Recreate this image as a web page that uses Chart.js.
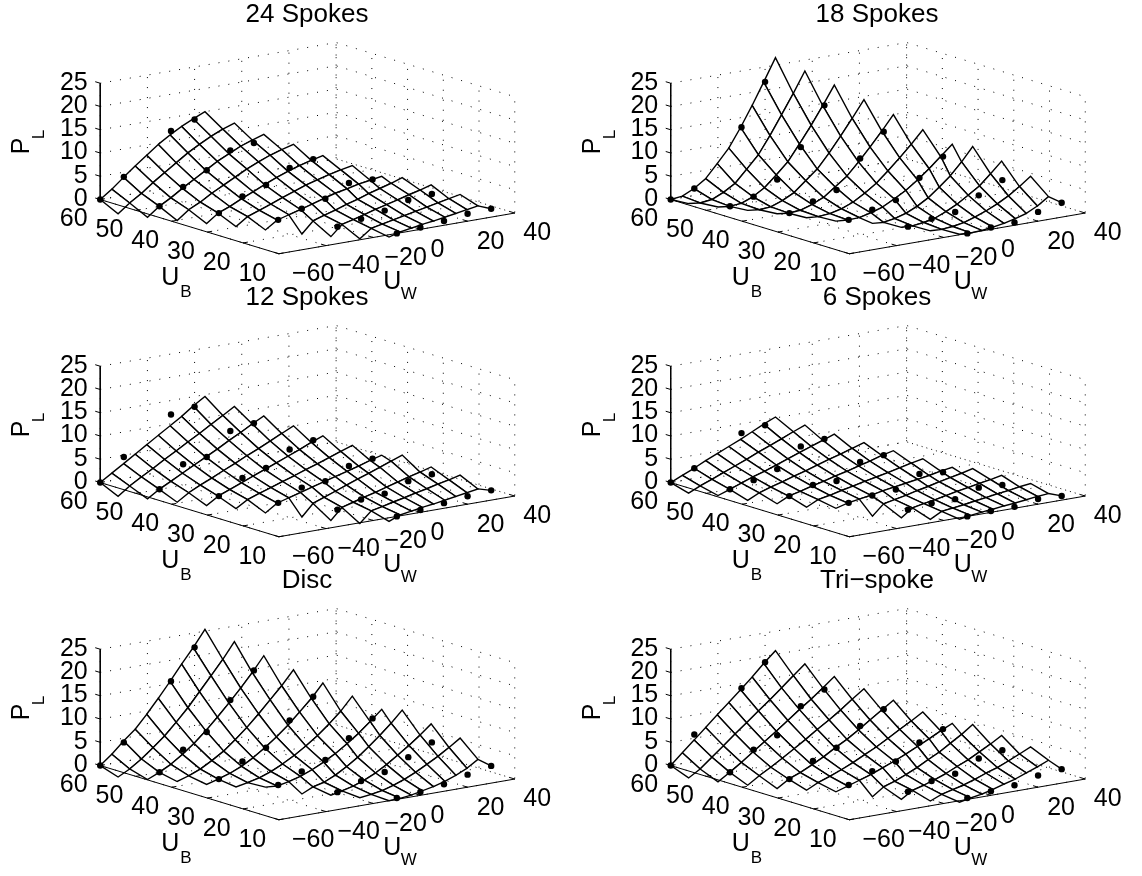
<!DOCTYPE html>
<html><head><meta charset="utf-8">
<style>html,body{margin:0;padding:0;background:#fff;overflow:hidden;width:1142px;height:876px}canvas{position:absolute}</style>
<script src="https://cdn.jsdelivr.net/npm/chart.js@4"></script>
</head><body>
<script>
const titles = ['24 Spokes','18 Spokes','12 Spokes','6 Spokes','Disc','Tri\u2212spoke'];
const zTicks = [0,5,10,15,20,25];
const bTicks = [60,50,40,30,20,10];
const wTicks = [-60,-40,-20,0,20,40];
const wTickText = ['\u221260','\u221240','\u221220','0','20','40'];

// mesh rows: U_B of each row and the first mesh column used by that row
const meshB = [60,55,50,45,40,35,30,25,20,15,10];
const meshCol0 = [1,1,2,3,4,5,6,8,9,10,11];
const wHigh = [-60,-55.1,-50.1,-45.2,-40.3,-35.4,-30.4,-25.5,-20.6,-15.6,-10.7,-5.8,-0.8,4.1,9,13.9];
const wLow = [-27.5,-22.8,-18.1,-13.3,-8.6,-3.9,0.8,5.5,10.3,15,19.7,24.4];

// measured points: U_B rows, each five U_W values at U_W = -U_B + 0,10,20,30,40
const dotB = [60,50,40,30,20,10];
const dotOffset = [0,10,20,30,40];

const mesh24 = [
 [0,1.8,3.9,5.9,7.8,9.7,11.3,12.7,13.9,15.0],
 [-1.9,0,1.6,3.5,5.2,6.9,8.6,10.0,11.3,12.4,13.3],
 [-1.9,0,1.4,3.0,4.5,6.0,7.5,8.7,9.9,10.8,11.6],
 [-1.9,0,1.2,2.7,4.0,5.3,6.6,7.7,8.7,9.5,10.2],
 [-1.8,0,1.0,2.2,3.3,4.4,5.5,6.4,7.2,7.9,8.5],
 [-1.7,0,.9,1.8,2.8,3.7,4.6,5.3,6.0,6.6,7.1],
 [-1.7,0,.7,1.4,2.1,2.9,3.6,4.1,4.7,5.1,5.5],
 [-2.1,.3,1.1,1.8,2.6,3.3,4.1,4.8,5.5,6.3],
 [-1.9,.3,.9,1.6,2.3,2.9,3.5,4.2,4.8,5.5],
 [-1.6,.2,.7,1.2,1.7,2.2,2.7,3.2,3.7,4.2],
 [-.5,.2,.6,1.0,1.3,1.7,2.1,2.5,2.9]];
const dots24 = [[0,4.0,null,12.1,13.7],[0,3.3,6.0,9.4,10.1],[0,2.7,4.3,7.1,8.1],[0,1.5,2.8,5.3,5.2],[0,.8,1.7,3.1,3.5],[0,.4,.9,1.6,1.8]];

const mesh18 = [
 [0,.3,1.5,3.2,6.0,8.9,12.9,17.2,21.8,26.6],
 [.3,0,.3,1.4,2.9,5.5,8.2,11.9,15.9,20.1,24.5],
 [.3,0,.2,1.2,2.7,5.0,7.4,10.8,14.4,18.2,22.2],
 [.3,0,.2,1.1,2.4,4.5,6.6,9.6,12.8,16.2,19.8],
 [.3,0,.2,1.0,2.1,3.9,5.8,8.4,11.2,14.2,17.3],
 [.2,0,.2,.8,1.8,3.3,5.0,7.2,9.6,12.1,14.8],
 [.2,0,.1,.7,1.5,2.8,4.2,6.0,8.0,10.2,12.4],
 [.2,0,.4,1.1,2.2,3.6,5.5,7.5,10.1,13.0],
 [.1,0,.3,.8,1.8,3.0,4.5,6.1,8.3,10.6],
 [.1,0,.2,.6,1.4,2.3,3.4,4.7,6.3,8.1],
 [.1,0,.1,.4,.8,1.4,2.1,3.3,4.9]];
const dots18 = [[0,1.5,null,12.9,21.8],[0,1.2,4.0,10.1,18.2],[0,1.6,3.2,9.1,14.0],[0,1.3,2.5,6.4,10.1],[0,.8,1.4,4.1,6.5],[0,.4,.6,2.0,3.1]];

const mesh12 = [
 [0,1.6,3.2,4.8,6.4,8.0,9.6,11.2,13.0,14.6],
 [-1.8,0,1.5,2.9,4.4,5.8,7.3,8.7,10.2,11.7,13.2],
 [-1.6,0,1.3,2.6,3.9,5.2,6.5,7.9,9.2,10.6,11.9],
 [-1.6,0,1.2,2.3,3.5,4.6,5.8,6.9,8.1,9.3,10.5],
 [-1.6,0,1.0,2.0,3.0,4.0,5.0,6.0,7.0,8.1,9.1],
 [-1.5,0,.9,1.7,2.6,3.4,4.3,5.1,6.0,6.9,7.8],
 [-1.7,0,.7,1.4,2.1,2.8,3.5,4.2,4.9,5.7,6.4],
 [-2.1,.4,1.3,2.2,3.1,4.0,4.8,5.7,6.6,7.5],
 [-2.1,.3,1.0,1.7,2.3,3.0,3.7,4.4,5.0,5.7],
 [-2.0,.3,.8,1.4,1.9,2.5,3.0,3.6,4.1,4.7],
 [-.8,.2,.6,1.0,1.3,1.7,2.1,2.5,2.9]];
const dots12 = [[0,4.6,null,12.0,12.8],[0,4.5,5.2,9.9,10.7],[0,3.0,4.3,7.4,8.5],[0,2.4,2.9,5.3,6.0],[0,1.3,1.7,3.5,4.1],[0,.5,1.1,1.7,2.1]];

const mesh6 = [
 [0,1.1,2.2,3.4,4.5,5.6,6.7,7.9,9.1,10.2],
 [-1.1,0,1.0,2.0,3.0,4.0,5.1,6.1,7.1,8.2,9.2],
 [-.9,0,.9,1.8,2.6,3.5,4.4,5.3,6.2,7.1,8.0],
 [-1.2,0,.8,1.5,2.3,3.0,3.8,4.6,5.3,6.1,6.9],
 [-1.2,0,.6,1.3,1.9,2.6,3.2,3.9,4.5,5.3,5.9],
 [-1.2,0,.5,1.1,1.6,2.2,2.7,3.2,3.8,4.4,4.9],
 [-.7,0,.4,.8,1.3,1.7,2.1,2.5,2.9,3.4,3.8],
 [-1.9,.3,.8,1.3,1.9,2.4,3.0,3.5,4.0,4.6],
 [-1.5,.2,.7,1.1,1.6,2.1,2.5,3.0,3.4,3.9],
 [-1.1,.2,.5,.8,1.2,1.5,1.9,2.2,2.6,2.9],
 [-.3,.1,.4,.6,.9,1.1,1.4,1.7,1.9]];
const dots6 = [[0,2.2,null,8.0,8.8],[0,1.1,2.6,6.6,7.3],[0,1.5,1.5,4.7,5.3],[0,.7,1.1,3.6,3.1],[0,.5,.5,2.1,1.8],[0,.3,.3,1.1,.9]];

const meshDisc = [
 [0,2.0,4.4,6.5,9.3,12.3,15.5,18.8,21.9,25.4],
 [-1.3,0,1.7,3.7,5.8,8.3,11.0,14.0,17.0,20.1,23.5],
 [-1.1,0,1.3,3.0,4.9,7.2,9.7,12.3,15.1,18.0,21.2],
 [-.8,0,1.0,2.4,4.0,6.0,8.2,10.7,13.3,15.9,18.9],
 [-.7,0,.8,1.9,3.3,5.0,6.9,9.0,11.4,13.9,16.8],
 [-.5,0,.6,1.5,2.7,4.1,5.7,7.5,9.6,11.9,14.7],
 [.2,0,.5,1.2,2.2,3.4,4.8,6.5,8.3,10.4,12.6],
 [-.8,.3,.9,2.0,3.4,5.0,6.9,8.9,11.1,13.5],
 [-.3,.2,.8,1.7,2.8,4.2,5.8,7.5,9.3,11.3],
 [-.1,.2,.6,1.3,2.2,3.3,4.6,5.9,7.4,9.0],
 [0,.1,.4,.9,1.4,2.1,3.0,4.1,5.6]];
const dotsDisc = [[0,4.1,null,15.5,21.9],[0,4.0,6.9,12.9,18.4],[0,2.9,5.0,10.0,14.2],[.2,2.2,3.8,7.6,11.0],[.1,1.6,2.7,5.0,7.3],[.3,.7,1.5,2.7,3.7]];

const meshTri = [
 [0,2.3,4.6,6.9,9.2,11.4,13.7,16.0,18.5,20.8],
 [-1.5,0,2.1,4.1,6.2,8.2,10.3,12.3,14.4,16.6,18.7],
 [-1.6,0,1.7,3.5,5.3,7.1,9.0,10.9,12.7,14.7,16.7],
 [-1.6,0,1.4,2.9,4.5,6.1,7.8,9.4,11.1,13.0,14.8],
 [-1.6,0,1.0,2.2,3.5,5.0,6.4,8.0,9.7,11.4,13.1],
 [-1.2,0,.9,1.9,3.0,4.3,5.5,6.9,8.4,9.8,11.3],
 [-.8,0,.8,1.6,2.6,3.6,4.7,5.9,7.1,8.4,9.6],
 [-1.4,.3,1.1,2.1,3.2,4.5,5.7,7.2,8.7,10.4],
 [-1.2,.3,1.0,1.8,2.7,3.8,4.8,6.1,7.4,8.8],
 [-.8,.2,.8,1.4,2.2,3.1,3.9,4.9,6.0,7.1],
 [-.3,.2,.6,1.2,1.9,2.6,3.5,4.4,5.4]];
const dotsTri = [[0,5.8,null,14.0,18.7],[0,4.0,6.2,11.6,14.3],[0,3.0,5.0,8.8,11.5],[.2,2.3,3.5,6.7,8.7],[.2,1.6,2.3,4.7,5.6],[.3,.9,1.3,2.5,3.0]];

const meshes = [mesh24,mesh18,mesh12,mesh6,meshDisc,meshTri];
const dotSets = [dots24,dots18,dots12,dots6,dotsDisc,dotsTri];

// view of the 3-D box, in screen pixels per data unit
const view = {bx:3.62, by:1.10, wx:2.39, wy:0.413, z:4.72};
const proj = (b,w,z)=>({x:(60-b)*view.bx+(w+60)*view.wx, y:-(60-b)*view.by+(w+60)*view.wy+z*view.z});
const floorDepth = (b,w)=>(60-b)*view.by-(w+60)*view.wy;
const colW = (row,c)=> row<=6 ? wHigh[c-1] : wLow[c-8];

function lineSet(pts,extra){return Object.assign({data:pts,showLine:true,pointRadius:0,borderColor:'#000',borderWidth:1,tension:0,fill:false,clip:false},extra||{});}

function datasetsFor(meshZ,dots){
  const quads=[];
  const v=(r,c)=>{const i=c-meshCol0[r];const a=meshZ[r];return (i>=0&&i<a.length)?{b:meshB[r],w:colW(r,c),z:a[i]}:null;};
  for(let r=0;r<meshB.length-1;r++){
    for(let c=1;c<20;c++){
      const p=[v(r,c),v(r,c+1),v(r+1,c+1),v(r+1,c)];
      if(p.some(q=>!q))continue;
      const depth=p.reduce((s,q)=>s+floorDepth(q.b,q.w),0)/4;
      quads.push({depth,pts:[...p,p[0]].map(q=>proj(q.b,q.w,q.z))});
    }
  }
  quads.sort((a,b)=>b.depth-a.depth); // nearest first: Chart.js paints the last dataset first
  const ds=[];
  const dotPts=[];
  dotB.forEach((b,r)=>dotOffset.forEach((s,i)=>{const z=dots[r][i];if(z!==null)dotPts.push(proj(b,s-b,z));}));
  ds.push({data:dotPts,showLine:false,pointRadius:3.2,pointBackgroundColor:'#000',pointBorderWidth:0,clip:false});
  // the mesh corner runs on to the last measured point of the lowest U_B row
  const corner=v(meshB.length-1,19);
  ds.push(lineSet([proj(corner.b,corner.w,corner.z),proj(10,30,dots[5][4])],{borderWidth:1.4}));
  // axes and tick marks, above the mesh
  ds.push(lineSet([proj(60,-60,25),proj(60,-60,0),proj(10,-60,0),proj(10,40,0)]));
  zTicks.forEach(z=>ds.push(lineSet([proj(60,-60,z),proj(61.4,-60,z)])));
  bTicks.forEach(b=>ds.push(lineSet([proj(b,-60,0),proj(b,-58,0)])));
  wTicks.forEach(w=>ds.push(lineSet([proj(10,w,0),proj(11.4,w,0)])));
  // dotted grid on floor and back walls: it shows through the mesh cells
  const dot={borderDash:[1,9],borderWidth:1,borderColor:'#000'};
  zTicks.forEach(z=>{ds.push(lineSet([proj(60,-60,z),proj(60,40,z),proj(10,40,z)],dot));});
  wTicks.forEach(w=>{ds.push(lineSet([proj(10,w,0),proj(60,w,0),proj(60,w,25)],dot));});
  bTicks.forEach(b=>{ds.push(lineSet([proj(b,-60,0),proj(b,40,0),proj(b,40,25)],dot));});
  quads.forEach(q=>ds.push(lineSet(q.pts,{fill:'shape',backgroundColor:'#fff',borderWidth:1.4})));
  return ds;
}

const labelFont='"Liberation Sans", Arial, sans-serif';
const wLabelDx=[34.3,32.6,32.5,17,23,22.4];
const textPlugin={id:'boxText',afterDraw(chart){
  const c=chart.ctx,sx=chart.scales.x,sy=chart.scales.y;
  const at=(p)=>({x:sx.getPixelForValue(p.x),y:sy.getPixelForValue(p.y)});
  c.save();c.fillStyle='#000';c.textBaseline='middle';c.font='25px '+labelFont;
  c.textAlign='right';
  zTicks.forEach(z=>{const p=at(proj(60,-60,z));c.fillText(String(z),p.x-12.5,p.y-0.5);});
  c.textAlign='center';
  bTicks.forEach(b=>{const p=at(proj(b,-60,0));c.fillText(String(b),p.x-26.5,p.y+20);});
  wTicks.forEach((w,i)=>{const p=at(proj(10,w,0));c.fillText(wTickText[i],p.x+wLabelDx[i],p.y+20.5);});
  const o=at(proj(60,-60,0));
  c.textBaseline='alphabetic';c.textAlign='left';
  c.fillText('U',o.x+61,o.y+85);c.fillText('U',o.x+283,o.y+89);
  c.font='17px '+labelFont;
  c.fillText('B',o.x+80,o.y+97);c.fillText('W',o.x+300.5,o.y+99);
  c.translate(o.x-71,o.y-45.3);c.rotate(-Math.PI/2);
  c.font='25px '+labelFont;c.fillText('P',0,0);
  c.font='17px '+labelFont;c.fillText('L',15,15);
  c.restore();
}};

const CW=614,CH=310,TITLE_H=30;
titles.forEach((t,i)=>{
  const col=i%2,row=Math.floor(i/2);
  const cv=document.createElement('canvas');
  cv.width=CW;cv.height=CH;cv.style.width=CW+'px';cv.style.height=CH+'px';
  cv.style.left=(col*570)+'px';cv.style.top=(row*283)+'px';
  document.body.appendChild(cv);
  const ox=col?98:97.5,oy=202;
  new Chart(cv,{type:'scatter',data:{datasets:datasetsFor(meshes[i],dotSets[i])},
    plugins:[textPlugin],
    options:{responsive:false,animation:false,devicePixelRatio:1,events:[],
      layout:{padding:0},
      plugins:{legend:{display:false},tooltip:{enabled:false},
        title:{display:true,text:t,color:'#000',padding:0,font:{family:labelFont,size:26,weight:'normal',lineHeight:TITLE_H/26}}},
      scales:{x:{type:'linear',display:false,min:-ox,max:CW-ox},y:{type:'linear',display:false,min:oy-CH,max:oy-TITLE_H}}
    }});
});
</script>
</body></html>
